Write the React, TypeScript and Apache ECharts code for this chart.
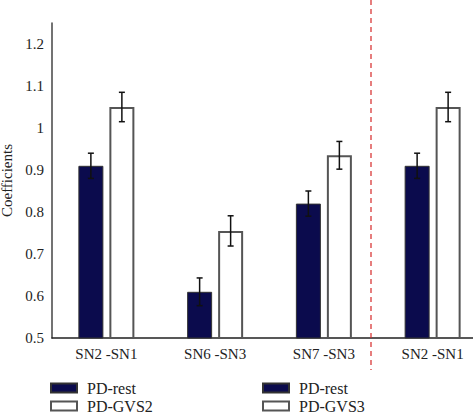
import React, { useEffect, useRef } from "react";
import * as echarts from "echarts";

const categories = ["SN2 -SN1", "SN6 -SN3", "SN7 -SN3", "SN2 -SN1"];
const restValues: (number | string)[] = [0.91, 0.61, 0.82, "-"];
const gvs2Values: (number | string)[] = [1.05, 0.755, 0.935, "-"];
const rest2Values: (number | string)[] = ["-", "-", "-", 0.91];
const gvs3Values: (number | string)[] = ["-", "-", "-", 1.05];
const restMeans = [0.91, 0.61, 0.82, 0.91];
const restErrors = [0.03, 0.033, 0.03, 0.03];
const gvsMeans = [1.05, 0.755, 0.935, 1.05];
const gvsErrors = [0.035, 0.036, 0.033, 0.035];
const yMin = 0.5;
const yMax = 1.25;
const yInterval = 0.1;

const FONT = "'Liberation Serif', 'DejaVu Serif', serif";
const NAVY = "#0b0b4d";

export default function App() {
  const ref = useRef<HTMLDivElement>(null);
  useEffect(() => {
    if (!ref.current) return;
    const chart = echarts.init(ref.current, null, { renderer: "svg" });
    const barOffset = 15.5;
    const errData = (means: number[], errs: number[], side: number) =>
      means.map((m, i) => [i, m - errs[i], m + errs[i], side]);
    const renderErr = (params: any, api: any) => {
      const cat = api.value(0);
      const lo = api.coord([cat, api.value(1)]);
      const hi = api.coord([cat, api.value(2)]);
      const x = lo[0] + api.value(3) * barOffset;
      const cap = 3;
      const style = { stroke: "#111", lineWidth: 1.5 };
      return {
        type: "group",
        children: [
          { type: "line", shape: { x1: x, y1: lo[1], x2: x, y2: hi[1] }, style },
          { type: "line", shape: { x1: x - cap, y1: hi[1], x2: x + cap, y2: hi[1] }, style },
          { type: "line", shape: { x1: x - cap, y1: lo[1], x2: x + cap, y2: lo[1] }, style },
        ],
      };
    };
    const restStyle = { color: NAVY, borderColor: "#333", borderWidth: 1 };
    const gvsStyle = { color: "#ffffff", borderColor: "#555", borderWidth: 2 };
    const legendCommon = {
      orient: "vertical",
      top: 380,
      padding: 0,
      itemWidth: 26,
      itemHeight: 9,
      itemGap: 2,
      icon: "rect",
      formatter: (n: string) => n.trim(),
      textStyle: { fontFamily: FONT, fontSize: 16, color: "#222", padding: [0, 0, 0, 5] },
      selectedMode: false,
    };
    chart.setOption({
      animation: false,
      grid: { left: 52, right: -14, top: 23, bottom: 77, outerBoundsMode: "none", containLabel: false },
      legend: [
        { ...legendCommon, left: 50, data: ["PD-rest", "PD-GVS2"] },
        { ...legendCommon, left: 262, data: ["PD-rest ", "PD-GVS3"] },
      ],
      xAxis: {
        type: "category",
        data: categories,
        axisTick: { show: false },
        axisLine: { lineStyle: { color: "#222", width: 1.5 } },
        axisLabel: { fontFamily: FONT, fontSize: 15, color: "#222", margin: 8 },
      },
      yAxis: {
        type: "value",
        min: yMin,
        max: yMax,
        interval: yInterval,
        name: "Coefficients",
        nameLocation: "middle",
        nameGap: 35,
        nameTextStyle: { fontFamily: FONT, fontSize: 15, color: "#222" },
        splitLine: { show: false },
        axisTick: { show: false },
        axisLine: { show: true, lineStyle: { color: "#444", width: 1.5 } },
        axisLabel: {
          fontFamily: FONT,
          fontSize: 15,
          color: "#222",
          margin: 8,
          showMaxLabel: false,
          formatter: (v: number) => String(Math.round(v * 100) / 100),
        },
      },
      series: [
        { name: "PD-rest", type: "bar", stack: "rest", data: restValues, barWidth: 25, barGap: "24%", itemStyle: restStyle },
        { name: "PD-GVS2", type: "bar", stack: "gvs", data: gvs2Values, barWidth: 25, barGap: "24%", itemStyle: gvsStyle },
        { name: "PD-rest ", type: "bar", stack: "rest", data: rest2Values, barWidth: 25, barGap: "24%", itemStyle: restStyle },
        { name: "PD-GVS3", type: "bar", stack: "gvs", data: gvs3Values, barWidth: 25, barGap: "24%", itemStyle: gvsStyle },
        { type: "custom", z: 10, renderItem: renderErr, data: errData(restMeans, restErrors, -1), encode: { x: 0, y: [1, 2] } },
        { type: "custom", z: 10, renderItem: renderErr, data: errData(gvsMeans, gvsErrors, 1), encode: { x: 0, y: [1, 2] } },
      ],
      graphic: [
        {
          type: "line",
          shape: { x1: 371, y1: 0, x2: 371, y2: 370 },
          style: { stroke: "#d62828", lineWidth: 1.2, lineDash: [5, 4] },
          z: 20,
        },
      ],
    });
    return () => chart.dispose();
  }, []);
  return (
    <div
      ref={ref}
      style={{ position: "fixed", left: 0, top: 0, width: 473, height: 415, background: "#fff" }}
    />
  );
}
